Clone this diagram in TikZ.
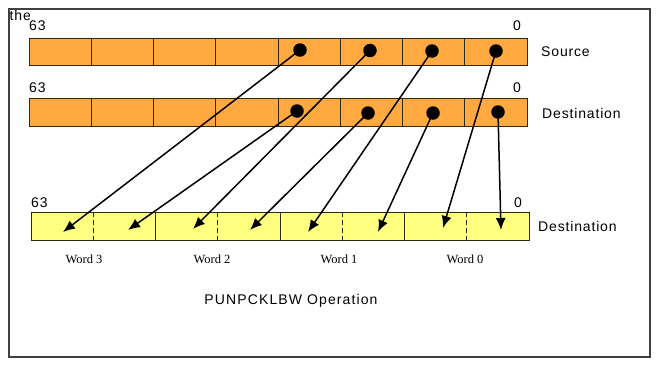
\documentclass[tikz,border=0pt]{standalone}
\usepackage{fontspec}
\setmainfont{Liberation Sans}[LetterSpace=6]
\newfontfamily\titlefont{Liberation Sans}[LetterSpace=8]
\newfontfamily\wordfont{Liberation Serif}
\usetikzlibrary{arrows.meta}
\definecolor{orangefill}{HTML}{FFA940}
\definecolor{yellowfill}{HTML}{FFFF80}
\definecolor{cellline}{HTML}{2B2B10}
\definecolor{framecol}{HTML}{404040}
\tikzset{
  lbl/.style={font=\fontsize{14}{16}\selectfont, inner sep=0pt, anchor=base west},
  wordlbl/.style={font=\wordfont\fontsize{12.5}{14}\selectfont, inner sep=0pt, anchor=base},
  dot/.style={circle, fill=black, inner sep=0pt, minimum size=13.5pt},
  conn/.style={line width=1.5pt, -{Latex[length=12pt,width=10pt]}, shorten <=-3pt},
  cellrow/.style={draw=cellline, line width=1pt},
}
\begin{document}
\begin{tikzpicture}[x=1pt,y=-1pt]
\useasboundingbox (0,0) rectangle (659,367);
% frame
\draw[framecol, line width=1.3pt] (9,9) rectangle (650,357);
\node[lbl] (the) at (9.5,20) {the};

% source row
\draw[cellrow, fill=orangefill] (29,38) rectangle (527,65);
\foreach \i in {1,...,7} \draw[cellrow] ({29+62.25*\i},38) -- ({29+62.25*\i},65);
% destination row
\draw[cellrow, fill=orangefill] (29,98) rectangle (527,126);
\foreach \i in {1,...,7} \draw[cellrow] ({29+62.25*\i},98) -- ({29+62.25*\i},126);
% result row
\draw[cellrow, fill=yellowfill] (31,212) rectangle (529,240);
\foreach \i in {1,2,3} \draw[cellrow] ({31+124.5*\i},212) -- ({31+124.5*\i},240);
\foreach \i in {0,1,2,3} \draw[cellrow, dash pattern=on 5pt off 3pt] ({93.25+124.5*\i},212) -- ({93.25+124.5*\i},240);

% bit labels
\node[lbl] (h1) at (29,30) {63};
\node[lbl] (l1) at (513,30) {0};
\node[lbl] (h2) at (29,92) {63};
\node[lbl] (l2) at (513,92) {0};
\node[lbl] (h3) at (31,207) {63};
\node[lbl] (l3) at (514,207) {0};

\node[lbl] (srcname) at (541,56) {Source};
\node[lbl] (dstname) at (542,118) {Destination};
\node[lbl] (resname) at (538,231) {Destination};

% word labels
\node[wordlbl] (w3) at (84,263) {Word 3};
\node[wordlbl] (w2) at (212,263) {Word 2};
\node[wordlbl] (w1) at (339,263) {Word 1};
\node[wordlbl] (w0) at (465,263) {Word 0};

\node[lbl, anchor=base, font=\titlefont\fontsize{14}{16}\selectfont] (title) at (291,304) {PUNPCKLBW Operation};

% dots
\node[dot] (s3) at (300,50) {};
\node[dot] (s2) at (370,50.5) {};
\node[dot] (s1) at (432,51) {};
\node[dot] (s0) at (496,51) {};
\node[dot] (d3) at (297,111) {};
\node[dot] (d2) at (368,113) {};
\node[dot] (d1) at (433,113) {};
\node[dot] (d0) at (498,112) {};

% targets
\coordinate (t7) at (63,232);
\coordinate (t6) at (128,230);
\coordinate (t5) at (193,229);
\coordinate (t4) at (250,230);
\coordinate (t3) at (308,232);
\coordinate (t2) at (378,232);
\coordinate (t1) at (443,228);
\coordinate (t0) at (501,230);

\draw[conn] (s3) -- (t7);
\draw[conn] (d3) -- (t6);
\draw[conn] (s2) -- (t5);
\draw[conn] (d2) -- (t4);
\draw[conn] (s1) -- (t3);
\draw[conn] (d1) -- (t2);
\draw[conn] (s0) -- (t1);
\draw[conn] (d0) -- (t0);
\end{tikzpicture}
\end{document}
